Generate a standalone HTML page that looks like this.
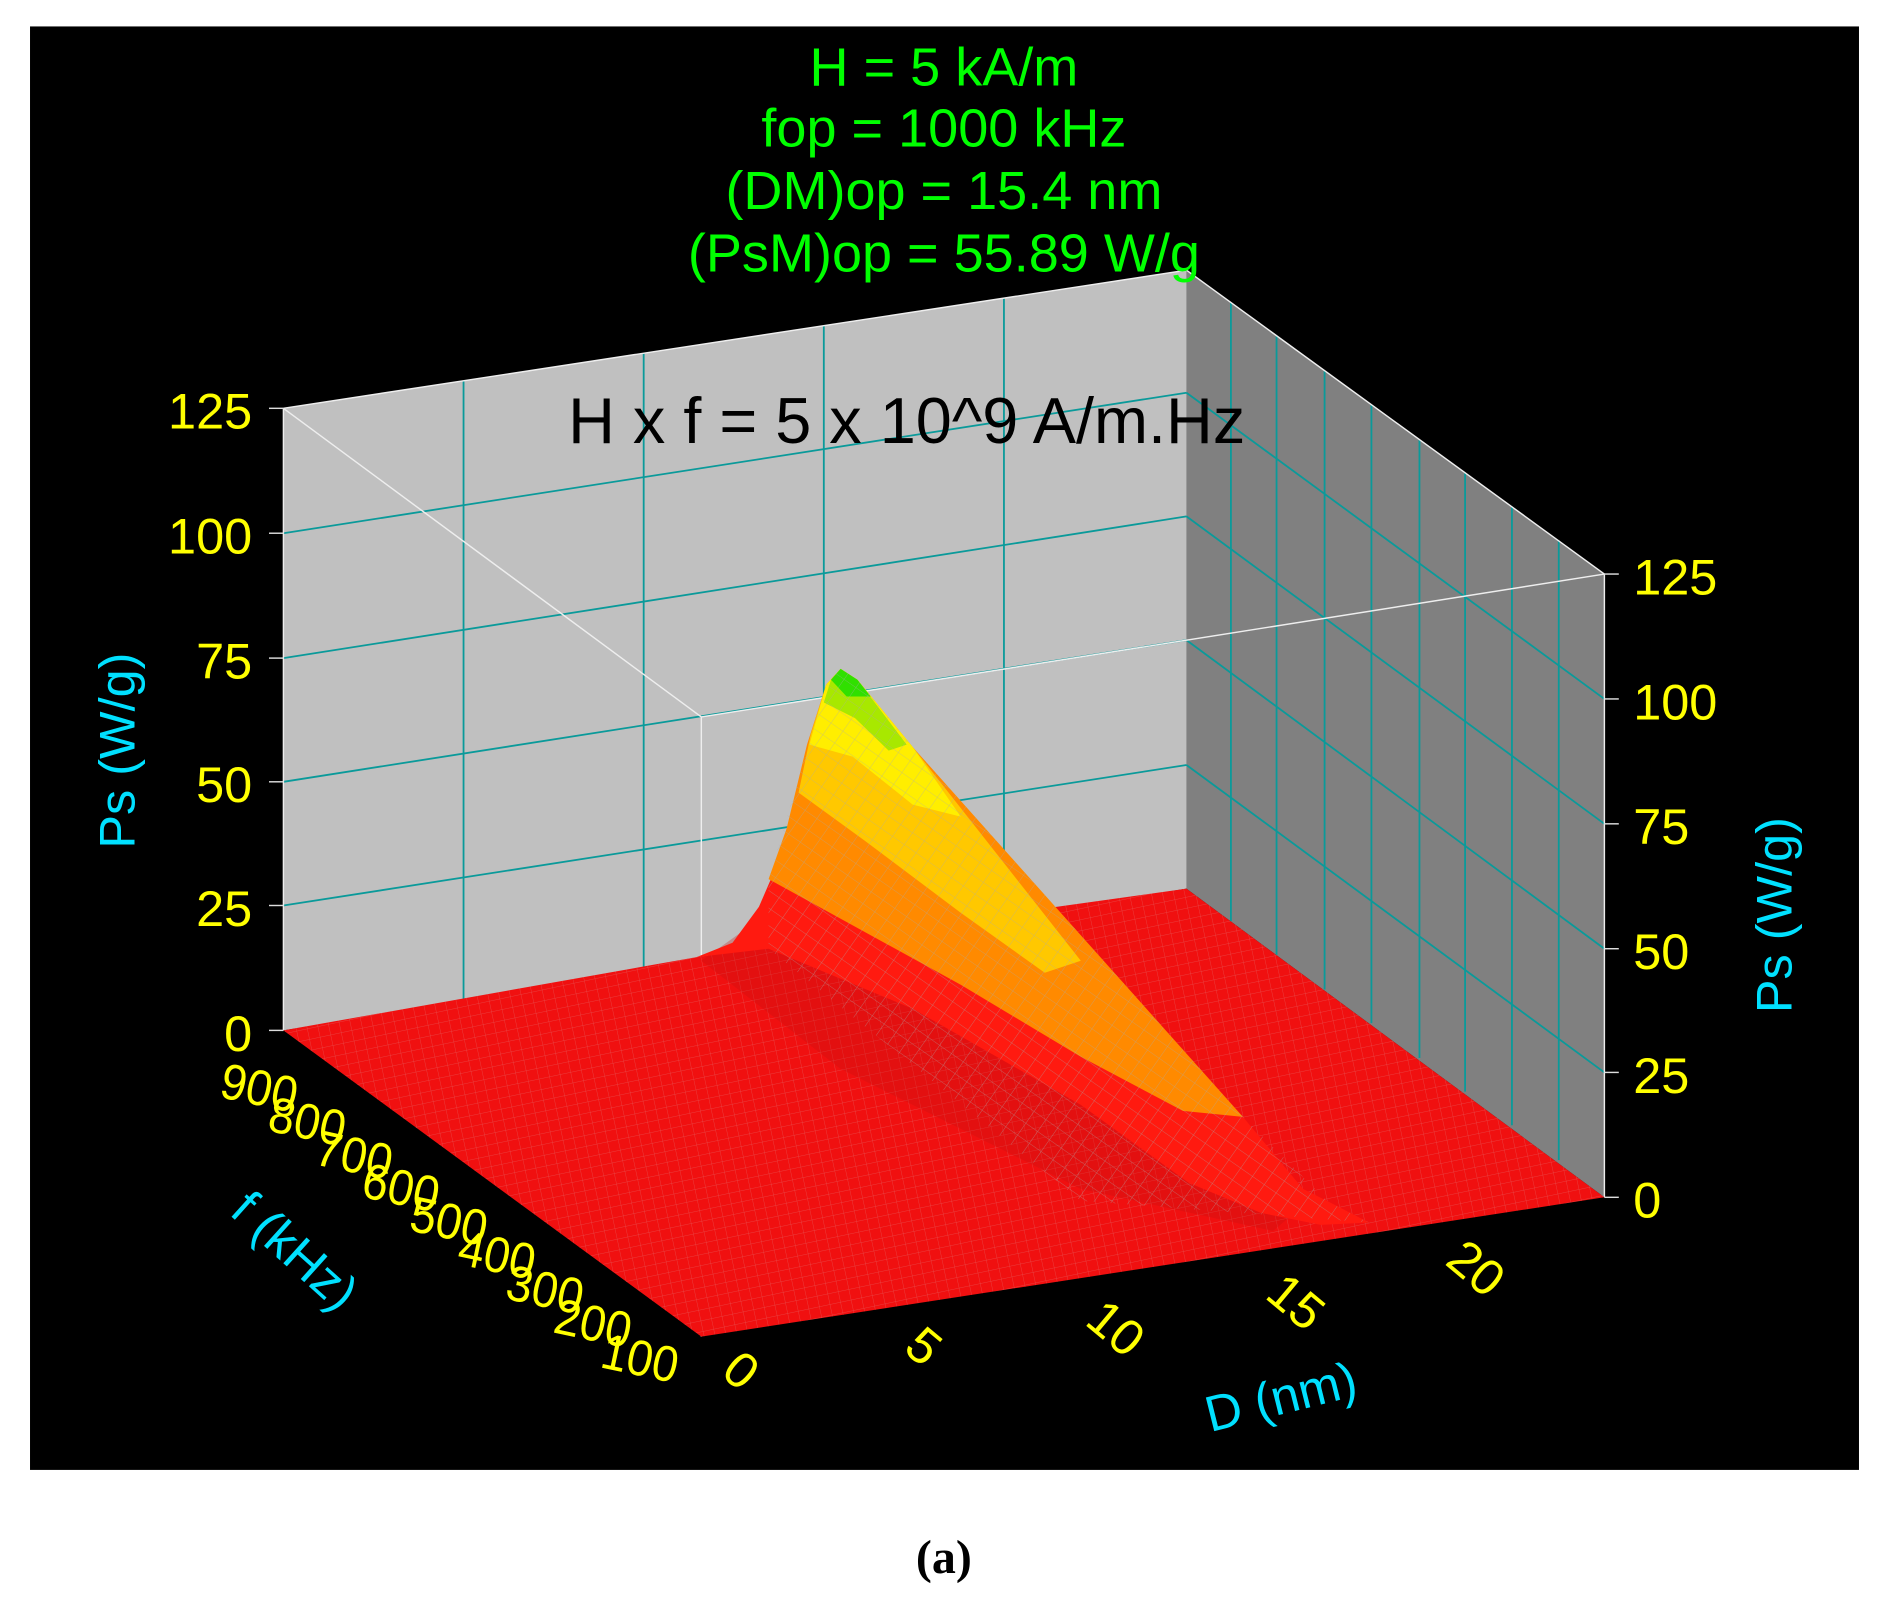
<!DOCTYPE html>
<html><head><meta charset="utf-8"><style>
html,body{margin:0;padding:0;background:#fff;}
svg{display:block;}
text{font-family:"Liberation Sans",sans-serif;}
</style></head><body>
<svg width="1883" height="1612" viewBox="0 0 1568 1342.3" xmlns="http://www.w3.org/2000/svg">
<defs>
<pattern id="mesh" width="9" height="9" patternUnits="userSpaceOnUse" patternTransform="rotate(-12)">
<path d="M0 0H9M0 0V9" stroke="#d88" stroke-width="0.6" fill="none" opacity="0.5"/>
</pattern>
<pattern id="mesh2" width="12" height="12" patternUnits="userSpaceOnUse" patternTransform="rotate(35)">
<path d="M0 0H12M0 0V12" stroke="#aaa" stroke-width="0.7" fill="none" opacity="0.6"/>
</pattern>
</defs>
<rect x="0" y="0" width="1568" height="1342.3" fill="#fff"/>
<rect x="25" y="22" width="1523" height="1202" fill="#000"/>
<polygon points="236,340 988,225 988,740 236,858" fill="#c0c0c0"/>
<polygon points="988,225 1336,478 1336,997 988,740" fill="#808080"/>
<g stroke="#0a9a9a" stroke-width="1.5" fill="none">
<line x1="236" y1="754" x2="988" y2="637"/><line x1="236" y1="651" x2="988" y2="533"/>
<line x1="236" y1="548" x2="988" y2="430"/><line x1="236" y1="444" x2="988" y2="327"/>
<line x1="386" y1="317" x2="386" y2="835"/><line x1="536" y1="294" x2="536" y2="812"/>
<line x1="686" y1="271" x2="686" y2="789"/><line x1="836" y1="248" x2="836" y2="766"/>
<line x1="988" y1="637" x2="1336" y2="893"/><line x1="988" y1="533" x2="1336" y2="790"/>
<line x1="988" y1="430" x2="1336" y2="686"/><line x1="988" y1="327" x2="1336" y2="582"/>
<line x1="1025" y1="252" x2="1025" y2="767"/><line x1="1063" y1="280" x2="1063" y2="795"/>
<line x1="1103" y1="309" x2="1103" y2="824"/><line x1="1142" y1="337" x2="1142" y2="852"/>
<line x1="1182" y1="366" x2="1182" y2="881"/><line x1="1220" y1="394" x2="1220" y2="909"/>
<line x1="1259" y1="422" x2="1259" y2="937"/><line x1="1298" y1="450" x2="1298" y2="966"/>
</g>
<g stroke="#eee" stroke-width="1.2">
<line x1="236" y1="340" x2="988" y2="225"/><line x1="988" y1="225" x2="1336" y2="478"/>
<line x1="236" y1="340" x2="236" y2="858"/><line x1="1336" y1="478" x2="1336" y2="997"/>
<line x1="236" y1="340" x2="584" y2="597"/><line x1="584" y1="597" x2="1336" y2="478"/>
<line x1="584" y1="597" x2="584" y2="1113"/>
</g>
<polygon points="236,858 580,797 988,740 1336,997 584,1113" fill="#f01010"/>
<polygon points="236,858 580,797 988,740 1336,997 584,1113" fill="url(#mesh)"/>
<polygon points="584,800 640,760 900,900 1040,960 1090,1000 1060,1025 900,990 700,890" fill="#c81010" opacity="0.3"/>
<polygon points="580,797 610,785 632,755 645,725 1035,930 1060,960 1085,990 1105,1000 1140,1018 1100,1020 1050,1010 990,985 900,920 760,840 640,790" fill="#ff1a10"/>
<polygon points="640,732 655,690 672,620 688,570 700,557 714,566 760,622 1035,930 985,925 900,880 800,820" fill="#ff8a00"/>
<polygon points="665,660 675,612 688,570 700,557 714,566 760,622 900,800 870,810 800,760 720,700" fill="#ffc800"/>
<polygon points="674,620 688,570 700,557 714,566 760,622 800,680 760,670 710,630" fill="#ffee00"/>
<polygon points="686,585 692,566 700,557 714,566 755,620 740,625 712,598" fill="#a8e800"/>
<polygon points="692,566 700,557 714,566 725,580 705,580" fill="#30e000"/>
<polygon points="640,732 688,570 700,557 714,566 760,622 1035,930 1105,1000 1140,1018 900,1000 640,790" fill="url(#mesh2)"/>
<g stroke="#ddd" stroke-width="1.2">
<line x1="224" y1="858" x2="236" y2="858"/><line x1="224" y1="754" x2="236" y2="754"/><line x1="224" y1="651" x2="236" y2="651"/><line x1="224" y1="548" x2="236" y2="548"/><line x1="224" y1="444" x2="236" y2="444"/><line x1="224" y1="340" x2="236" y2="340"/>
<line x1="1336" y1="997" x2="1348" y2="997"/><line x1="1336" y1="893" x2="1348" y2="893"/><line x1="1336" y1="790" x2="1348" y2="790"/><line x1="1336" y1="686" x2="1348" y2="686"/><line x1="1336" y1="582" x2="1348" y2="582"/><line x1="1336" y1="478" x2="1348" y2="478"/>
</g>
<g fill="#ffff00" font-size="42">
<g text-anchor="end"><text x="210" y="875">0</text><text x="210" y="771">25</text><text x="210" y="668">50</text><text x="210" y="565">75</text><text x="210" y="461">100</text><text x="210" y="357">125</text></g>
<text x="1360" y="1014">0</text><text x="1360" y="910">25</text><text x="1360" y="807">50</text><text x="1360" y="703">75</text><text x="1360" y="599">100</text><text x="1360" y="495">125</text>
<g text-anchor="middle">
<text transform="translate(213,920) rotate(12) scale(0.92,1)">900</text><text transform="translate(253,948) rotate(12) scale(0.92,1)">800</text><text transform="translate(292,976) rotate(12) scale(0.92,1)">700</text><text transform="translate(331,1003) rotate(12) scale(0.92,1)">600</text><text transform="translate(371,1031) rotate(12) scale(0.92,1)">500</text><text transform="translate(411,1059) rotate(12) scale(0.92,1)">400</text><text transform="translate(451,1088) rotate(12) scale(0.92,1)">300</text><text transform="translate(491,1116) rotate(12) scale(0.92,1)">200</text><text transform="translate(530,1145) rotate(12) scale(0.92,1)">100</text>
<text transform="translate(608,1152) rotate(40)">0</text><text transform="translate(760,1132) rotate(40)">5</text><text transform="translate(920,1117) rotate(40)">10</text><text transform="translate(1070,1095) rotate(40)">15</text><text transform="translate(1220,1067) rotate(40)">20</text>
</g></g>
<g fill="#00e0ff" font-size="42" text-anchor="middle">
<text transform="translate(112,625) rotate(-90)">Ps (W/g)</text>
<text transform="translate(1492,762) rotate(-90)">Ps (W/g)</text>
<text transform="translate(236,1052) rotate(42)">f (kHz)</text>
<text transform="translate(1070,1177) rotate(-14)">D (nm)</text>
</g>
<g fill="#00ff00" font-size="45" text-anchor="middle">
<text x="786" y="71">H = 5 kA/m</text><text x="786" y="122">fop = 1000 kHz</text><text x="786" y="174">(DM)op = 15.4 nm</text><text x="786" y="226">(PsM)op = 55.89 W/g</text>
</g>
<text x="755" y="369" font-size="54" text-anchor="middle" fill="#000">H x f = 5 x 10^9 A/m.Hz</text>
<text x="786" y="1310" font-size="40" text-anchor="middle" font-weight="bold" fill="#000" style="font-family:'Liberation Serif',serif">(a)</text>
</svg>
</body></html>
